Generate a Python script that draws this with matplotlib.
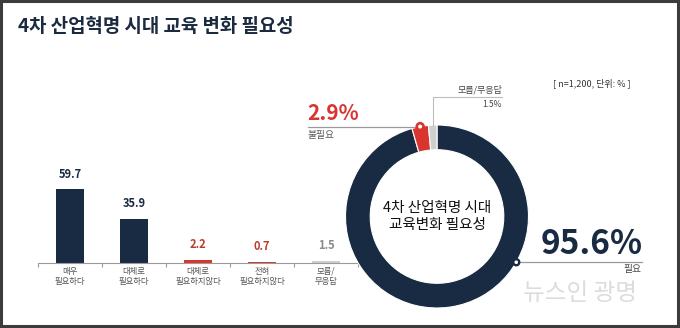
#!/usr/bin/env python3
import numpy as np
import matplotlib

matplotlib.use("Agg")
import matplotlib.pyplot as plt
from matplotlib.patches import Rectangle, Circle

plt.rcParams["font.family"] = ["Noto Sans CJK KR", "DejaVu Sans"]

# data
TITLE = "4차 산업혁명 시대 교육 변화 필요성"
CATEGORIES = ["매우\n필요하다", "대체로\n필요하다", "대체로\n필요하지않다", "전혀\n필요하지않다", "모름/\n무응답"]
VALUES = [59.7, 35.9, 2.2, 0.7, 1.5]
DONUT_LABELS = ["필요", "불필요", "모름/무응답"]
DONUT_VALUES = [95.6, 2.9, 1.5]
NOTE = "[ n=1,200, 단위: % ]"
CENTER_TEXT = "4차 산업혁명 시대\n교육변화 필요성"

NAVY = "#192a43"
RED = "#d9352f"
GRAY = "#cfcfcf"
BAR_COLORS = [NAVY, NAVY, RED, RED, GRAY]
LABEL_COLORS = [NAVY, NAVY, "#c0392b", "#c0392b", "#8a8a8a"]
DONUT_COLORS = [NAVY, RED, GRAY]

W, H = 680, 328
fig = plt.figure(figsize=(W / 100, H / 100), dpi=100)
fig.patch.set_facecolor("white")


def px_axes(x0, y0, w, h):
    # axes placed by pixel box (top-left origin)
    return fig.add_axes([x0 / W, 1 - (y0 + h) / H, w / W, h / H])


# overlay for texts/lines in pixel coords
ov = fig.add_axes([0, 0, 1, 1], zorder=5)
ov.set_xlim(0, W)
ov.set_ylim(H, 0)
ov.axis("off")
ov.patch.set_alpha(0)

ov.text(18, 27, TITLE, fontsize=13.6, fontweight="bold", color="#1b2a3f", va="center", ha="left")
ov.text(592, 83, NOTE, fontsize=6.5, color="#333333", va="center", ha="center")

# bar chart
ax = px_axes(38, 262.7 - 98.4, 320, 98.4)
x = np.arange(len(VALUES))
ax.bar(x, VALUES, width=0.43, color=BAR_COLORS)
ax.set_xlim(-0.5, len(VALUES) - 0.5)
ax.set_ylim(0, 80)
for s in ["top", "right", "left"]:
    ax.spines[s].set_visible(False)
ax.spines["bottom"].set_color("#9a9a9a")
ax.spines["bottom"].set_linewidth(0.8)
ax.set_yticks([])
ax.set_xticks(x)
ax.set_xticklabels(CATEGORIES, fontsize=6, color="#555555", linespacing=1.15)
ax.tick_params(axis="x", which="major", length=0, pad=3)
ax.set_xticks(np.arange(-0.5, len(VALUES)), minor=True)
ax.tick_params(axis="x", which="minor", length=3, color="#9a9a9a", width=0.8)
ax.patch.set_alpha(0)
for xi, v, c in zip(x, VALUES, LABEL_COLORS):
    ax.text(xi, v + 7, f"{v}", ha="center", va="bottom", fontsize=8, fontweight="bold", color=c)

# donut
cx, cy, r = 437, 216.5, 91.5
lim = 1.1
dax = px_axes(cx - r * lim, cy - r * lim, 2 * r * lim, 2 * r * lim)
dax.pie(DONUT_VALUES, colors=DONUT_COLORS, startangle=90, counterclock=False, radius=1,
        wedgeprops=dict(width=0.27, edgecolor="white", linewidth=0.8))
dax.set_xlim(-lim, lim)
dax.set_ylim(-lim, lim)
dax.set_aspect("equal")
dax.text(0, 0, CENTER_TEXT, ha="center", va="center", fontsize=10.5, color="#111111", linespacing=1.2)

# marker positions from donut angles (clockwise from top)
tot = sum(DONUT_VALUES)
red_mid = (DONUT_VALUES[0] + DONUT_VALUES[1] / 2) / tot * 360
ang_red = np.deg2rad(red_mid)
mx_red, my_red = cx + r * np.sin(ang_red), cy - r * np.cos(ang_red)
ang_navy = np.deg2rad(120)
mx_nav, my_nav = cx + r * np.sin(ang_navy), cy - r * np.cos(ang_navy)
gray_start = (DONUT_VALUES[0] + DONUT_VALUES[1]) / tot * 360
ang_gray = np.deg2rad(gray_start + DONUT_VALUES[2] / tot * 180)
gx, gy = cx + r * np.sin(ang_gray), cy - r * np.cos(ang_gray)

# 불필요 annotation
ov.plot([308, mx_red], [my_red, my_red], color="#9a9a9a", lw=0.9)
ov.add_patch(Circle((mx_red, my_red), 4, facecolor=RED, edgecolor=RED, zorder=6))
ov.add_patch(Circle((mx_red, my_red), 2, facecolor="white", edgecolor="none", zorder=7))
ov.text(307, my_red - 3, f"{DONUT_VALUES[1]}%", fontsize=15, fontweight="bold", color=RED,
        ha="left", va="bottom")
ov.text(308, my_red + 3, DONUT_LABELS[1], fontsize=7, color="#555555", ha="left", va="top")

# 모름/무응답 annotation
ov.plot([gx, gx, 502], [gy, 97, 97], color="#bdbdbd", lw=0.8)
ov.text(502, 95, DONUT_LABELS[2], fontsize=6.5, color="#444444", ha="right", va="bottom")
ov.text(502, 100, f"{DONUT_VALUES[2]}%", fontsize=6, color="#444444", ha="right", va="top")

# 필요 annotation
ov.plot([mx_nav, 642], [my_nav, my_nav], color="#9a9a9a", lw=0.9)
ov.add_patch(Circle((mx_nav, my_nav), 3.5, facecolor=NAVY, edgecolor=NAVY, zorder=6))
ov.add_patch(Circle((mx_nav, my_nav), 1.8, facecolor="white", edgecolor="none", zorder=7))
ov.text(643, my_nav - 1, f"{DONUT_VALUES[0]}%", fontsize=24, fontweight="bold", color=NAVY,
        ha="right", va="bottom")
ov.text(641, my_nav + 2, DONUT_LABELS[0], fontsize=7, color="#444444", ha="right", va="top")

# watermark
ov.text(580, 293, "뉴스인 광명", fontsize=17, color="#dcdcdc", ha="center", va="center", zorder=4)

# frame
ov.add_patch(Rectangle((1, 1), W - 3, H - 3, fill=False, edgecolor="#3c3c3c", lw=2.2, zorder=8))

fig.savefig("out.png", dpi=100)
